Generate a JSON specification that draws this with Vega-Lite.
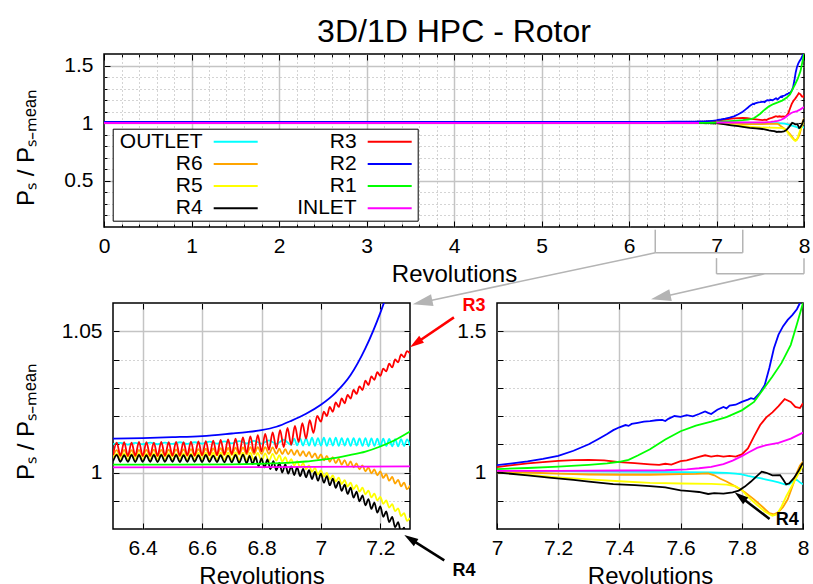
{
"$schema": "https://vega.github.io/schema/vega-lite/v6.json",
"padding": {"left": 13, "top": 14, "right": 5, "bottom": 5},
"background": "white",
"config": {
  "view": {"stroke": "black", "strokeWidth": 1.5},
  "font": "Liberation Sans",
  "axis": {"domain": false, "minExtent": 0, "tickColor": "black", "tickWidth": 1, "labelFont": "Liberation Sans", "labelFontSize": 21, "labelColor": "black", "titleFont": "Liberation Sans", "titleFontSize": 24, "titleFontWeight": "normal", "titleColor": "black", "labelFlush": false, "labelOverlap": false, "labelBound": false}
},
"datasets": {
"A": [
{"s":"OUTLET","x":0,"y":1.0102},{"s":"OUTLET","x":6.3,"y":1.0100},{"s":"OUTLET","x":6.325,"y":1.0105},{"s":"OUTLET","x":6.35,"y":1.0099},{"s":"OUTLET","x":6.375,"y":1.0105},{"s":"OUTLET","x":6.4,"y":1.0100},{"s":"OUTLET","x":6.425,"y":1.0106},{"s":"OUTLET","x":6.45,"y":1.0100},{"s":"OUTLET","x":6.475,"y":1.0106},{"s":"OUTLET","x":6.5,"y":1.0101},{"s":"OUTLET","x":6.525,"y":1.0107},{"s":"OUTLET","x":6.55,"y":1.0101},{"s":"OUTLET","x":6.575,"y":1.0107},{"s":"OUTLET","x":6.6,"y":1.0102},{"s":"OUTLET","x":6.625,"y":1.0109},{"s":"OUTLET","x":6.65,"y":1.0102},{"s":"OUTLET","x":6.675,"y":1.0110},{"s":"OUTLET","x":6.7,"y":1.0103},{"s":"OUTLET","x":6.725,"y":1.0111},{"s":"OUTLET","x":6.75,"y":1.0103},{"s":"OUTLET","x":6.775,"y":1.0112},{"s":"OUTLET","x":6.8,"y":1.0102},{"s":"OUTLET","x":6.825,"y":1.0114},{"s":"OUTLET","x":6.85,"y":1.0101},{"s":"OUTLET","x":6.875,"y":1.0116},{"s":"OUTLET","x":6.9,"y":1.0098},{"s":"OUTLET","x":6.91,"y":1.0120},{"s":"OUTLET","x":6.92,"y":1.0096},{"s":"OUTLET","x":6.93,"y":1.0121},{"s":"OUTLET","x":6.94,"y":1.0095},{"s":"OUTLET","x":6.95,"y":1.0122},{"s":"OUTLET","x":6.96,"y":1.0095},{"s":"OUTLET","x":6.97,"y":1.0123},{"s":"OUTLET","x":6.98,"y":1.0094},{"s":"OUTLET","x":6.99,"y":1.0122},{"s":"OUTLET","x":7.0,"y":1.0095},{"s":"OUTLET","x":7.01,"y":1.0123},{"s":"OUTLET","x":7.02,"y":1.0094},{"s":"OUTLET","x":7.03,"y":1.0122},{"s":"OUTLET","x":7.04,"y":1.0095},{"s":"OUTLET","x":7.05,"y":1.0123},{"s":"OUTLET","x":7.06,"y":1.0094},{"s":"OUTLET","x":7.07,"y":1.0122},{"s":"OUTLET","x":7.08,"y":1.0095},{"s":"OUTLET","x":7.09,"y":1.0121},{"s":"OUTLET","x":7.1,"y":1.0094},{"s":"OUTLET","x":7.11,"y":1.0122},{"s":"OUTLET","x":7.12,"y":1.0095},{"s":"OUTLET","x":7.13,"y":1.0121},{"s":"OUTLET","x":7.14,"y":1.0094},{"s":"OUTLET","x":7.15,"y":1.0122},{"s":"OUTLET","x":7.16,"y":1.0093},{"s":"OUTLET","x":7.17,"y":1.0121},{"s":"OUTLET","x":7.18,"y":1.0094},{"s":"OUTLET","x":7.19,"y":1.0120},{"s":"OUTLET","x":7.2,"y":1.0093},{"s":"OUTLET","x":7.21,"y":1.0120},{"s":"OUTLET","x":7.22,"y":1.0094},{"s":"OUTLET","x":7.23,"y":1.0119},{"s":"OUTLET","x":7.24,"y":1.0093},{"s":"OUTLET","x":7.25,"y":1.0118},{"s":"OUTLET","x":7.26,"y":1.0093},{"s":"OUTLET","x":7.27,"y":1.0118},{"s":"OUTLET","x":7.28,"y":1.0094},{"s":"OUTLET","x":7.29,"y":1.0117},{"s":"OUTLET","x":7.3,"y":1.0095},
{"s":"R6","x":0,"y":1.0068},{"s":"R6","x":6.3,"y":1.0057},{"s":"R6","x":6.3125,"y":1.0079},{"s":"R6","x":6.325,"y":1.0056},{"s":"R6","x":6.3375,"y":1.0080},{"s":"R6","x":6.35,"y":1.0057},{"s":"R6","x":6.3625,"y":1.0079},{"s":"R6","x":6.375,"y":1.0056},{"s":"R6","x":6.3875,"y":1.0080},{"s":"R6","x":6.4,"y":1.0057},{"s":"R6","x":6.4125,"y":1.0080},{"s":"R6","x":6.425,"y":1.0057},{"s":"R6","x":6.4375,"y":1.0081},{"s":"R6","x":6.45,"y":1.0057},{"s":"R6","x":6.4625,"y":1.0080},{"s":"R6","x":6.475,"y":1.0058},{"s":"R6","x":6.4875,"y":1.0081},{"s":"R6","x":6.5,"y":1.0058},{"s":"R6","x":6.5125,"y":1.0082},{"s":"R6","x":6.525,"y":1.0058},{"s":"R6","x":6.5375,"y":1.0082},{"s":"R6","x":6.55,"y":1.0059},{"s":"R6","x":6.5625,"y":1.0083},{"s":"R6","x":6.575,"y":1.0059},{"s":"R6","x":6.5875,"y":1.0083},{"s":"R6","x":6.6,"y":1.0060},{"s":"R6","x":6.6125,"y":1.0084},{"s":"R6","x":6.625,"y":1.0060},{"s":"R6","x":6.6375,"y":1.0085},{"s":"R6","x":6.65,"y":1.0061},{"s":"R6","x":6.6625,"y":1.0086},{"s":"R6","x":6.675,"y":1.0062},{"s":"R6","x":6.6875,"y":1.0087},{"s":"R6","x":6.7,"y":1.0062},{"s":"R6","x":6.7125,"y":1.0088},{"s":"R6","x":6.725,"y":1.0063},{"s":"R6","x":6.7375,"y":1.0089},{"s":"R6","x":6.75,"y":1.0064},{"s":"R6","x":6.7625,"y":1.0090},{"s":"R6","x":6.775,"y":1.0065},{"s":"R6","x":6.7875,"y":1.0090},{"s":"R6","x":6.8,"y":1.0066},{"s":"R6","x":6.8125,"y":1.0090},{"s":"R6","x":6.825,"y":1.0066},{"s":"R6","x":6.8375,"y":1.0089},{"s":"R6","x":6.85,"y":1.0066},{"s":"R6","x":6.86,"y":1.0084},{"s":"R6","x":6.87,"y":1.0065},{"s":"R6","x":6.88,"y":1.0083},{"s":"R6","x":6.89,"y":1.0064},{"s":"R6","x":6.9,"y":1.0081},{"s":"R6","x":6.91,"y":1.0062},{"s":"R6","x":6.92,"y":1.0079},{"s":"R6","x":6.93,"y":1.0059},{"s":"R6","x":6.94,"y":1.0076},{"s":"R6","x":6.95,"y":1.0057},{"s":"R6","x":6.96,"y":1.0073},{"s":"R6","x":6.97,"y":1.0053},{"s":"R6","x":6.98,"y":1.0068},{"s":"R6","x":6.99,"y":1.0048},{"s":"R6","x":7.0,"y":1.0064},{"s":"R6","x":7.01,"y":1.0043},{"s":"R6","x":7.02,"y":1.0059},{"s":"R6","x":7.03,"y":1.0038},{"s":"R6","x":7.04,"y":1.0054},{"s":"R6","x":7.05,"y":1.0033},{"s":"R6","x":7.06,"y":1.0049},{"s":"R6","x":7.07,"y":1.0028},{"s":"R6","x":7.08,"y":1.0044},{"s":"R6","x":7.09,"y":1.0023},{"s":"R6","x":7.1,"y":1.0039},{"s":"R6","x":7.11,"y":1.0018},{"s":"R6","x":7.12,"y":1.0032},{"s":"R6","x":7.13,"y":1.0011},{"s":"R6","x":7.14,"y":1.0025},{"s":"R6","x":7.15,"y":1.0004},{"s":"R6","x":7.16,"y":1.0018},{"s":"R6","x":7.17,"y":0.9997},{"s":"R6","x":7.18,"y":1.0011},{"s":"R6","x":7.19,"y":0.9990},{"s":"R6","x":7.2,"y":1.0004},{"s":"R6","x":7.21,"y":0.9981},{"s":"R6","x":7.22,"y":0.9994},{"s":"R6","x":7.23,"y":0.9971},{"s":"R6","x":7.24,"y":0.9984},{"s":"R6","x":7.25,"y":0.9961},{"s":"R6","x":7.26,"y":0.9974},{"s":"R6","x":7.27,"y":0.9951},{"s":"R6","x":7.28,"y":0.9964},{"s":"R6","x":7.29,"y":0.9941},{"s":"R6","x":7.3,"y":0.9954},
{"s":"R5","x":0,"y":1.0056},{"s":"R5","x":6.3,"y":1.0046},{"s":"R5","x":6.3125,"y":1.0067},{"s":"R5","x":6.325,"y":1.0045},{"s":"R5","x":6.3375,"y":1.0068},{"s":"R5","x":6.35,"y":1.0045},{"s":"R5","x":6.3625,"y":1.0067},{"s":"R5","x":6.375,"y":1.0046},{"s":"R5","x":6.3875,"y":1.0068},{"s":"R5","x":6.4,"y":1.0045},{"s":"R5","x":6.4125,"y":1.0067},{"s":"R5","x":6.425,"y":1.0045},{"s":"R5","x":6.4375,"y":1.0068},{"s":"R5","x":6.45,"y":1.0046},{"s":"R5","x":6.4625,"y":1.0067},{"s":"R5","x":6.475,"y":1.0045},{"s":"R5","x":6.4875,"y":1.0068},{"s":"R5","x":6.5,"y":1.0045},{"s":"R5","x":6.5125,"y":1.0067},{"s":"R5","x":6.525,"y":1.0046},{"s":"R5","x":6.5375,"y":1.0068},{"s":"R5","x":6.55,"y":1.0045},{"s":"R5","x":6.5625,"y":1.0068},{"s":"R5","x":6.575,"y":1.0045},{"s":"R5","x":6.5875,"y":1.0069},{"s":"R5","x":6.6,"y":1.0045},{"s":"R5","x":6.6125,"y":1.0069},{"s":"R5","x":6.625,"y":1.0045},{"s":"R5","x":6.6375,"y":1.0070},{"s":"R5","x":6.65,"y":1.0045},{"s":"R5","x":6.6625,"y":1.0070},{"s":"R5","x":6.675,"y":1.0044},{"s":"R5","x":6.6875,"y":1.0070},{"s":"R5","x":6.7,"y":1.0044},{"s":"R5","x":6.7125,"y":1.0071},{"s":"R5","x":6.725,"y":1.0043},{"s":"R5","x":6.7375,"y":1.0070},{"s":"R5","x":6.75,"y":1.0043},{"s":"R5","x":6.7625,"y":1.0070},{"s":"R5","x":6.775,"y":1.0042},{"s":"R5","x":6.7875,"y":1.0069},{"s":"R5","x":6.8,"y":1.0041},{"s":"R5","x":6.8125,"y":1.0068},{"s":"R5","x":6.825,"y":1.0040},{"s":"R5","x":6.8375,"y":1.0066},{"s":"R5","x":6.85,"y":1.0042},{"s":"R5","x":6.86,"y":1.0061},{"s":"R5","x":6.87,"y":1.0039},{"s":"R5","x":6.88,"y":1.0054},{"s":"R5","x":6.89,"y":1.0032},{"s":"R5","x":6.9,"y":1.0047},{"s":"R5","x":6.91,"y":1.0025},{"s":"R5","x":6.92,"y":1.0040},{"s":"R5","x":6.93,"y":1.0018},{"s":"R5","x":6.94,"y":1.0033},{"s":"R5","x":6.95,"y":1.0011},{"s":"R5","x":6.96,"y":1.0025},{"s":"R5","x":6.97,"y":1.0002},{"s":"R5","x":6.98,"y":1.0016},{"s":"R5","x":6.99,"y":0.9993},{"s":"R5","x":7.0,"y":1.0007},{"s":"R5","x":7.01,"y":0.9985},{"s":"R5","x":7.02,"y":0.9999},{"s":"R5","x":7.03,"y":0.9976},{"s":"R5","x":7.04,"y":0.9990},{"s":"R5","x":7.05,"y":0.9968},{"s":"R5","x":7.06,"y":0.9982},{"s":"R5","x":7.07,"y":0.9959},{"s":"R5","x":7.08,"y":0.9973},{"s":"R5","x":7.09,"y":0.9950},{"s":"R5","x":7.1,"y":0.9964},{"s":"R5","x":7.11,"y":0.9941},{"s":"R5","x":7.12,"y":0.9955},{"s":"R5","x":7.13,"y":0.9932},{"s":"R5","x":7.14,"y":0.9946},{"s":"R5","x":7.15,"y":0.9923},{"s":"R5","x":7.16,"y":0.9936},{"s":"R5","x":7.17,"y":0.9912},{"s":"R5","x":7.18,"y":0.9925},{"s":"R5","x":7.19,"y":0.9901},{"s":"R5","x":7.2,"y":0.9914},{"s":"R5","x":7.21,"y":0.9889},{"s":"R5","x":7.22,"y":0.9901},{"s":"R5","x":7.23,"y":0.9876},{"s":"R5","x":7.24,"y":0.9888},{"s":"R5","x":7.25,"y":0.9863},{"s":"R5","x":7.26,"y":0.9873},{"s":"R5","x":7.27,"y":0.9846},{"s":"R5","x":7.28,"y":0.9856},{"s":"R5","x":7.29,"y":0.9829},{"s":"R5","x":7.3,"y":0.9839},
{"s":"R4","x":0,"y":1.0050},{"s":"R4","x":6.3,"y":1.0040},{"s":"R4","x":6.3125,"y":1.0062},{"s":"R4","x":6.325,"y":1.0038},{"s":"R4","x":6.3375,"y":1.0061},{"s":"R4","x":6.35,"y":1.0038},{"s":"R4","x":6.3625,"y":1.0062},{"s":"R4","x":6.375,"y":1.0037},{"s":"R4","x":6.3875,"y":1.0062},{"s":"R4","x":6.4,"y":1.0038},{"s":"R4","x":6.4125,"y":1.0061},{"s":"R4","x":6.425,"y":1.0038},{"s":"R4","x":6.4375,"y":1.0062},{"s":"R4","x":6.45,"y":1.0037},{"s":"R4","x":6.4625,"y":1.0062},{"s":"R4","x":6.475,"y":1.0038},{"s":"R4","x":6.4875,"y":1.0061},{"s":"R4","x":6.5,"y":1.0038},{"s":"R4","x":6.5125,"y":1.0062},{"s":"R4","x":6.525,"y":1.0037},{"s":"R4","x":6.5375,"y":1.0061},{"s":"R4","x":6.55,"y":1.0038},{"s":"R4","x":6.5625,"y":1.0062},{"s":"R4","x":6.575,"y":1.0038},{"s":"R4","x":6.5875,"y":1.0061},{"s":"R4","x":6.6,"y":1.0037},{"s":"R4","x":6.6125,"y":1.0062},{"s":"R4","x":6.625,"y":1.0038},{"s":"R4","x":6.6375,"y":1.0060},{"s":"R4","x":6.65,"y":1.0037},{"s":"R4","x":6.6625,"y":1.0061},{"s":"R4","x":6.675,"y":1.0036},{"s":"R4","x":6.6875,"y":1.0060},{"s":"R4","x":6.7,"y":1.0036},{"s":"R4","x":6.7125,"y":1.0062},{"s":"R4","x":6.725,"y":1.0034},{"s":"R4","x":6.7375,"y":1.0063},{"s":"R4","x":6.75,"y":1.0033},{"s":"R4","x":6.76,"y":1.0059},{"s":"R4","x":6.77,"y":1.0030},{"s":"R4","x":6.78,"y":1.0055},{"s":"R4","x":6.79,"y":1.0022},{"s":"R4","x":6.8,"y":1.0050},{"s":"R4","x":6.81,"y":1.0018},{"s":"R4","x":6.82,"y":1.0046},{"s":"R4","x":6.83,"y":1.0012},{"s":"R4","x":6.84,"y":1.0040},{"s":"R4","x":6.85,"y":1.0008},{"s":"R4","x":6.86,"y":1.0034},{"s":"R4","x":6.87,"y":1.0000},{"s":"R4","x":6.88,"y":1.0029},{"s":"R4","x":6.89,"y":0.9996},{"s":"R4","x":6.9,"y":1.0022},{"s":"R4","x":6.91,"y":0.9991},{"s":"R4","x":6.92,"y":1.0018},{"s":"R4","x":6.93,"y":0.9987},{"s":"R4","x":6.94,"y":1.0013},{"s":"R4","x":6.95,"y":0.9983},{"s":"R4","x":6.96,"y":1.0008},{"s":"R4","x":6.97,"y":0.9977},{"s":"R4","x":6.98,"y":1.0002},{"s":"R4","x":6.99,"y":0.9971},{"s":"R4","x":7.0,"y":0.9996},{"s":"R4","x":7.01,"y":0.9964},{"s":"R4","x":7.02,"y":0.9987},{"s":"R4","x":7.03,"y":0.9955},{"s":"R4","x":7.04,"y":0.9978},{"s":"R4","x":7.05,"y":0.9946},{"s":"R4","x":7.06,"y":0.9968},{"s":"R4","x":7.07,"y":0.9935},{"s":"R4","x":7.08,"y":0.9957},{"s":"R4","x":7.09,"y":0.9924},{"s":"R4","x":7.1,"y":0.9946},{"s":"R4","x":7.11,"y":0.9911},{"s":"R4","x":7.12,"y":0.9932},{"s":"R4","x":7.13,"y":0.9898},{"s":"R4","x":7.14,"y":0.9919},{"s":"R4","x":7.15,"y":0.9884},{"s":"R4","x":7.16,"y":0.9906},{"s":"R4","x":7.17,"y":0.9871},{"s":"R4","x":7.18,"y":0.9893},{"s":"R4","x":7.19,"y":0.9858},{"s":"R4","x":7.2,"y":0.9880},{"s":"R4","x":7.21,"y":0.9843},{"s":"R4","x":7.22,"y":0.9862},{"s":"R4","x":7.23,"y":0.9824},{"s":"R4","x":7.24,"y":0.9843},{"s":"R4","x":7.25,"y":0.9806},{"s":"R4","x":7.26,"y":0.9824},{"s":"R4","x":7.27,"y":0.9787},{"s":"R4","x":7.28,"y":0.9805},{"s":"R4","x":7.29,"y":0.9768},{"s":"R4","x":7.3,"y":0.9786},
{"s":"R3","x":0,"y":1.0083},{"s":"R3","x":6.3,"y":1.0062},{"s":"R3","x":6.3125,"y":1.0106},{"s":"R3","x":6.325,"y":1.0060},{"s":"R3","x":6.3375,"y":1.0107},{"s":"R3","x":6.35,"y":1.0059},{"s":"R3","x":6.3625,"y":1.0106},{"s":"R3","x":6.375,"y":1.0060},{"s":"R3","x":6.3875,"y":1.0108},{"s":"R3","x":6.4,"y":1.0059},{"s":"R3","x":6.4125,"y":1.0107},{"s":"R3","x":6.425,"y":1.0060},{"s":"R3","x":6.4375,"y":1.0106},{"s":"R3","x":6.45,"y":1.0059},{"s":"R3","x":6.4625,"y":1.0108},{"s":"R3","x":6.475,"y":1.0060},{"s":"R3","x":6.4875,"y":1.0107},{"s":"R3","x":6.5,"y":1.0060},{"s":"R3","x":6.5125,"y":1.0108},{"s":"R3","x":6.525,"y":1.0060},{"s":"R3","x":6.5375,"y":1.0107},{"s":"R3","x":6.55,"y":1.0061},{"s":"R3","x":6.5625,"y":1.0109},{"s":"R3","x":6.575,"y":1.0060},{"s":"R3","x":6.5875,"y":1.0110},{"s":"R3","x":6.6,"y":1.0061},{"s":"R3","x":6.6125,"y":1.0111},{"s":"R3","x":6.625,"y":1.0062},{"s":"R3","x":6.6375,"y":1.0113},{"s":"R3","x":6.65,"y":1.0062},{"s":"R3","x":6.6625,"y":1.0115},{"s":"R3","x":6.675,"y":1.0064},{"s":"R3","x":6.6875,"y":1.0117},{"s":"R3","x":6.7,"y":1.0065},{"s":"R3","x":6.7125,"y":1.0120},{"s":"R3","x":6.725,"y":1.0067},{"s":"R3","x":6.7375,"y":1.0124},{"s":"R3","x":6.75,"y":1.0069},{"s":"R3","x":6.7625,"y":1.0128},{"s":"R3","x":6.775,"y":1.0071},{"s":"R3","x":6.7875,"y":1.0132},{"s":"R3","x":6.8,"y":1.0075},{"s":"R3","x":6.8125,"y":1.0137},{"s":"R3","x":6.825,"y":1.0080},{"s":"R3","x":6.8375,"y":1.0142},{"s":"R3","x":6.85,"y":1.0085},{"s":"R3","x":6.8625,"y":1.0150},{"s":"R3","x":6.875,"y":1.0090},{"s":"R3","x":6.8875,"y":1.0158},{"s":"R3","x":6.9,"y":1.0098},{"s":"R3","x":6.9125,"y":1.0165},{"s":"R3","x":6.925,"y":1.0108},{"s":"R3","x":6.9375,"y":1.0175},{"s":"R3","x":6.95,"y":1.0120},{"s":"R3","x":6.9625,"y":1.0185},{"s":"R3","x":6.975,"y":1.0140},{"s":"R3","x":6.9875,"y":1.0200},{"s":"R3","x":7.0,"y":1.0180},{"s":"R3","x":7.01,"y":1.0215},{"s":"R3","x":7.02,"y":1.0200},{"s":"R3","x":7.03,"y":1.0232},{"s":"R3","x":7.04,"y":1.0215},{"s":"R3","x":7.05,"y":1.0248},{"s":"R3","x":7.06,"y":1.0232},{"s":"R3","x":7.07,"y":1.0262},{"s":"R3","x":7.08,"y":1.0245},{"s":"R3","x":7.09,"y":1.0275},{"s":"R3","x":7.1,"y":1.0262},{"s":"R3","x":7.11,"y":1.0292},{"s":"R3","x":7.12,"y":1.0278},{"s":"R3","x":7.13,"y":1.0305},{"s":"R3","x":7.14,"y":1.0292},{"s":"R3","x":7.15,"y":1.0325},{"s":"R3","x":7.16,"y":1.0310},{"s":"R3","x":7.17,"y":1.0340},{"s":"R3","x":7.18,"y":1.0328},{"s":"R3","x":7.19,"y":1.0355},{"s":"R3","x":7.2,"y":1.0342},{"s":"R3","x":7.21,"y":1.0368},{"s":"R3","x":7.22,"y":1.0358},{"s":"R3","x":7.23,"y":1.0385},{"s":"R3","x":7.24,"y":1.0372},{"s":"R3","x":7.25,"y":1.0400},{"s":"R3","x":7.26,"y":1.0390},{"s":"R3","x":7.27,"y":1.0418},{"s":"R3","x":7.28,"y":1.0408},{"s":"R3","x":7.29,"y":1.0430},{"s":"R3","x":7.3,"y":1.0422},
{"s":"R2","x":0,"y":1.0120},{"s":"R2","x":6.3,"y":1.0120},{"s":"R2","x":6.4,"y":1.0122},{"s":"R2","x":6.5,"y":1.0125},{"s":"R2","x":6.6,"y":1.0129},{"s":"R2","x":6.7,"y":1.0138},{"s":"R2","x":6.75,"y":1.0143},{"s":"R2","x":6.8,"y":1.0150},{"s":"R2","x":6.85,"y":1.0162},{"s":"R2","x":6.9,"y":1.0183},{"s":"R2","x":6.95,"y":1.0208},{"s":"R2","x":7.0,"y":1.0240},{"s":"R2","x":7.05,"y":1.0283},{"s":"R2","x":7.1,"y":1.0345},{"s":"R2","x":7.15,"y":1.0440},{"s":"R2","x":7.2,"y":1.0565},{"s":"R2","x":7.25,"y":1.0720},{"s":"R2","x":7.3,"y":1.0900},
{"s":"R1","x":0,"y":1.0028},{"s":"R1","x":6.3,"y":1.0028},{"s":"R1","x":6.5,"y":1.0028},{"s":"R1","x":6.7,"y":1.0029},{"s":"R1","x":6.8,"y":1.0031},{"s":"R1","x":6.9,"y":1.0035},{"s":"R1","x":6.95,"y":1.0039},{"s":"R1","x":7.0,"y":1.0045},{"s":"R1","x":7.05,"y":1.0052},{"s":"R1","x":7.1,"y":1.0062},{"s":"R1","x":7.15,"y":1.0074},{"s":"R1","x":7.2,"y":1.0092},{"s":"R1","x":7.25,"y":1.0115},{"s":"R1","x":7.3,"y":1.0145},
{"s":"INLET","x":0,"y":1.0018},{"s":"INLET","x":6.3,"y":1.0018},{"s":"INLET","x":6.8,"y":1.0019},{"s":"INLET","x":7.3,"y":1.0022}
],
"B": [
{"s":"OUTLET","x":7.0,"y":1.006},{"s":"OUTLET","x":7.1,"y":1.005},{"s":"OUTLET","x":7.2,"y":1.005},{"s":"OUTLET","x":7.3,"y":1.004},{"s":"OUTLET","x":7.4,"y":1.003},{"s":"OUTLET","x":7.5,"y":1.002},{"s":"OUTLET","x":7.6,"y":1.001},{"s":"OUTLET","x":7.7,"y":1.000},{"s":"OUTLET","x":7.75,"y":0.999},{"s":"OUTLET","x":7.78,"y":0.996},{"s":"OUTLET","x":7.8,"y":0.993},{"s":"OUTLET","x":7.82,"y":0.988},{"s":"OUTLET","x":7.84,"y":0.984},{"s":"OUTLET","x":7.86,"y":0.980},{"s":"OUTLET","x":7.88,"y":0.975},{"s":"OUTLET","x":7.9,"y":0.970},{"s":"OUTLET","x":7.92,"y":0.965},{"s":"OUTLET","x":7.94,"y":0.958},{"s":"OUTLET","x":7.955,"y":0.958},{"s":"OUTLET","x":7.97,"y":0.972},{"s":"OUTLET","x":7.98,"y":0.974},{"s":"OUTLET","x":7.99,"y":0.965},{"s":"OUTLET","x":8.0,"y":0.958},
{"s":"R6","x":7.0,"y":1.002},{"s":"R6","x":7.1,"y":1.000},{"s":"R6","x":7.2,"y":0.996},{"s":"R6","x":7.3,"y":0.993},{"s":"R6","x":7.4,"y":0.992},{"s":"R6","x":7.5,"y":0.992},{"s":"R6","x":7.6,"y":0.994},{"s":"R6","x":7.65,"y":0.995},{"s":"R6","x":7.69,"y":0.997},{"s":"R6","x":7.71,"y":0.990},{"s":"R6","x":7.73,"y":0.978},{"s":"R6","x":7.75,"y":0.968},{"s":"R6","x":7.78,"y":0.950},{"s":"R6","x":7.81,"y":0.930},{"s":"R6","x":7.84,"y":0.905},{"s":"R6","x":7.87,"y":0.876},{"s":"R6","x":7.89,"y":0.856},{"s":"R6","x":7.905,"y":0.852},{"s":"R6","x":7.92,"y":0.860},{"s":"R6","x":7.935,"y":0.878},{"s":"R6","x":7.95,"y":0.905},{"s":"R6","x":7.96,"y":0.935},{"s":"R6","x":7.97,"y":0.965},{"s":"R6","x":7.98,"y":1.000},{"s":"R6","x":7.99,"y":1.025},{"s":"R6","x":8.0,"y":1.038},
{"s":"R5","x":7.0,"y":1.000},{"s":"R5","x":7.1,"y":0.992},{"s":"R5","x":7.2,"y":0.983},{"s":"R5","x":7.3,"y":0.976},{"s":"R5","x":7.4,"y":0.969},{"s":"R5","x":7.5,"y":0.963},{"s":"R5","x":7.6,"y":0.961},{"s":"R5","x":7.7,"y":0.960},{"s":"R5","x":7.75,"y":0.957},{"s":"R5","x":7.78,"y":0.951},{"s":"R5","x":7.8,"y":0.938},{"s":"R5","x":7.82,"y":0.914},{"s":"R5","x":7.85,"y":0.885},{"s":"R5","x":7.875,"y":0.862},{"s":"R5","x":7.9,"y":0.847},{"s":"R5","x":7.915,"y":0.852},{"s":"R5","x":7.93,"y":0.880},{"s":"R5","x":7.945,"y":0.915},{"s":"R5","x":7.96,"y":0.945},{"s":"R5","x":7.975,"y":0.975},{"s":"R5","x":7.99,"y":1.005},{"s":"R5","x":8.0,"y":1.025},
{"s":"R4","x":7.0,"y":1.000},{"s":"R4","x":7.1,"y":0.990},{"s":"R4","x":7.17,"y":0.982},{"s":"R4","x":7.25,"y":0.974},{"s":"R4","x":7.3,"y":0.968},{"s":"R4","x":7.38,"y":0.959},{"s":"R4","x":7.45,"y":0.955},{"s":"R4","x":7.5,"y":0.952},{"s":"R4","x":7.55,"y":0.947},{"s":"R4","x":7.6,"y":0.937},{"s":"R4","x":7.63,"y":0.934},{"s":"R4","x":7.66,"y":0.931},{"s":"R4","x":7.69,"y":0.924},{"s":"R4","x":7.71,"y":0.927},{"s":"R4","x":7.74,"y":0.925},{"s":"R4","x":7.77,"y":0.930},{"s":"R4","x":7.79,"y":0.936},{"s":"R4","x":7.81,"y":0.950},{"s":"R4","x":7.83,"y":0.968},{"s":"R4","x":7.85,"y":0.988},{"s":"R4","x":7.865,"y":1.003},{"s":"R4","x":7.88,"y":0.999},{"s":"R4","x":7.9,"y":0.990},{"s":"R4","x":7.925,"y":0.991},{"s":"R4","x":7.935,"y":0.975},{"s":"R4","x":7.945,"y":0.958},{"s":"R4","x":7.955,"y":0.962},{"s":"R4","x":7.97,"y":0.980},{"s":"R4","x":7.985,"y":1.005},{"s":"R4","x":8.0,"y":1.035},
{"s":"R3","x":7.0,"y":1.019},{"s":"R3","x":7.05,"y":1.026},{"s":"R3","x":7.1,"y":1.032},{"s":"R3","x":7.15,"y":1.037},{"s":"R3","x":7.2,"y":1.041},{"s":"R3","x":7.25,"y":1.044},{"s":"R3","x":7.3,"y":1.045},{"s":"R3","x":7.35,"y":1.043},{"s":"R3","x":7.4,"y":1.037},{"s":"R3","x":7.45,"y":1.033},{"s":"R3","x":7.5,"y":1.029},{"s":"R3","x":7.53,"y":1.027},{"s":"R3","x":7.55,"y":1.031},{"s":"R3","x":7.57,"y":1.028},{"s":"R3","x":7.6,"y":1.040},{"s":"R3","x":7.62,"y":1.043},{"s":"R3","x":7.64,"y":1.049},{"s":"R3","x":7.66,"y":1.055},{"s":"R3","x":7.68,"y":1.061},{"s":"R3","x":7.7,"y":1.056},{"s":"R3","x":7.72,"y":1.060},{"s":"R3","x":7.74,"y":1.056},{"s":"R3","x":7.76,"y":1.059},{"s":"R3","x":7.78,"y":1.056},{"s":"R3","x":7.8,"y":1.064},{"s":"R3","x":7.82,"y":1.085},{"s":"R3","x":7.84,"y":1.128},{"s":"R3","x":7.86,"y":1.168},{"s":"R3","x":7.88,"y":1.195},{"s":"R3","x":7.9,"y":1.213},{"s":"R3","x":7.92,"y":1.235},{"s":"R3","x":7.94,"y":1.260},{"s":"R3","x":7.96,"y":1.250},{"s":"R3","x":7.975,"y":1.232},{"s":"R3","x":7.99,"y":1.228},{"s":"R3","x":8.0,"y":1.245},
{"s":"R2","x":7.0,"y":1.026},{"s":"R2","x":7.05,"y":1.032},{"s":"R2","x":7.1,"y":1.039},{"s":"R2","x":7.15,"y":1.048},{"s":"R2","x":7.2,"y":1.059},{"s":"R2","x":7.25,"y":1.077},{"s":"R2","x":7.3,"y":1.100},{"s":"R2","x":7.33,"y":1.118},{"s":"R2","x":7.36,"y":1.136},{"s":"R2","x":7.38,"y":1.150},{"s":"R2","x":7.4,"y":1.160},{"s":"R2","x":7.42,"y":1.168},{"s":"R2","x":7.43,"y":1.165},{"s":"R2","x":7.44,"y":1.172},{"s":"R2","x":7.46,"y":1.176},{"s":"R2","x":7.48,"y":1.180},{"s":"R2","x":7.5,"y":1.182},{"s":"R2","x":7.52,"y":1.185},{"s":"R2","x":7.54,"y":1.186},{"s":"R2","x":7.55,"y":1.182},{"s":"R2","x":7.56,"y":1.190},{"s":"R2","x":7.58,"y":1.200},{"s":"R2","x":7.6,"y":1.197},{"s":"R2","x":7.62,"y":1.203},{"s":"R2","x":7.64,"y":1.199},{"s":"R2","x":7.66,"y":1.207},{"s":"R2","x":7.68,"y":1.216},{"s":"R2","x":7.69,"y":1.211},{"s":"R2","x":7.7,"y":1.207},{"s":"R2","x":7.72,"y":1.222},{"s":"R2","x":7.74,"y":1.232},{"s":"R2","x":7.75,"y":1.227},{"s":"R2","x":7.76,"y":1.237},{"s":"R2","x":7.78,"y":1.240},{"s":"R2","x":7.8,"y":1.250},{"s":"R2","x":7.82,"y":1.258},{"s":"R2","x":7.83,"y":1.263},{"s":"R2","x":7.84,"y":1.260},{"s":"R2","x":7.86,"y":1.283},{"s":"R2","x":7.875,"y":1.310},{"s":"R2","x":7.89,"y":1.370},{"s":"R2","x":7.905,"y":1.440},{"s":"R2","x":7.92,"y":1.488},{"s":"R2","x":7.935,"y":1.518},{"s":"R2","x":7.95,"y":1.540},{"s":"R2","x":7.965,"y":1.557},{"s":"R2","x":7.98,"y":1.578},{"s":"R2","x":7.99,"y":1.600},{"s":"R2","x":8.0,"y":1.625},
{"s":"R1","x":7.0,"y":1.012},{"s":"R1","x":7.1,"y":1.016},{"s":"R1","x":7.2,"y":1.021},{"s":"R1","x":7.3,"y":1.027},{"s":"R1","x":7.36,"y":1.032},{"s":"R1","x":7.4,"y":1.038},{"s":"R1","x":7.43,"y":1.045},{"s":"R1","x":7.46,"y":1.060},{"s":"R1","x":7.5,"y":1.082},{"s":"R1","x":7.55,"y":1.117},{"s":"R1","x":7.6,"y":1.146},{"s":"R1","x":7.65,"y":1.166},{"s":"R1","x":7.7,"y":1.180},{"s":"R1","x":7.75,"y":1.196},{"s":"R1","x":7.8,"y":1.220},{"s":"R1","x":7.84,"y":1.250},{"s":"R1","x":7.87,"y":1.295},{"s":"R1","x":7.9,"y":1.340},{"s":"R1","x":7.93,"y":1.388},{"s":"R1","x":7.96,"y":1.452},{"s":"R1","x":7.98,"y":1.525},{"s":"R1","x":8.0,"y":1.600},
{"s":"INLET","x":7.0,"y":1.006},{"s":"INLET","x":7.2,"y":1.006},{"s":"INLET","x":7.4,"y":1.007},{"s":"INLET","x":7.55,"y":1.008},{"s":"INLET","x":7.62,"y":1.011},{"s":"INLET","x":7.66,"y":1.015},{"s":"INLET","x":7.7,"y":1.020},{"s":"INLET","x":7.74,"y":1.030},{"s":"INLET","x":7.77,"y":1.042},{"s":"INLET","x":7.8,"y":1.058},{"s":"INLET","x":7.82,"y":1.070},{"s":"INLET","x":7.85,"y":1.087},{"s":"INLET","x":7.88,"y":1.097},{"s":"INLET","x":7.92,"y":1.105},{"s":"INLET","x":7.96,"y":1.120},{"s":"INLET","x":8.0,"y":1.141}
]
},
"resolve": {"scale": {"color": "independent"}},
"bounds": "flush",
"spacing": 76,
"vconcat": [
{
  "width": 700, "height": 173,
  "title": {"text": "3D/1D HPC - Rotor", "font": "Liberation Sans", "fontSize": 32, "fontWeight": "normal", "color": "black", "anchor": "middle", "frame": "group", "offset": -20, "baseline": "alphabetic"},
  "layer": [
    {
      "data": {"name": "A"},
      "transform": [{"filter": "datum.x <= 7"}],
      "mark": {"type": "point", "opacity": 0},
      "encoding": {
        "x": {"field": "x", "type": "quantitative", "scale": {"domain": [0, 8], "nice": false, "zero": false},
          "axis": {"orient": "top", "values": [0,0.2,0.4,0.6,0.8,1,1.2,1.4,1.6,1.8,2,2.2,2.4,2.6,2.8,3,3.2,3.4,3.6,3.8,4,4.2,4.4,4.6,4.8,5,5.2,5.4,5.6,5.8,6,6.2,6.4,6.6,6.8,7,7.2,7.4,7.6,7.8,8], "grid": false, "labels": false, "title": null,
            "tickSize": {"condition": {"test": "datum.value % 1 == 0", "value": -6}, "value": -3}}},
        "y": {"field": "y", "type": "quantitative", "scale": {"domain": [0.1, 1.6], "nice": false, "zero": false},
          "axis": {"orient": "right", "values": [0.2,0.3,0.4,0.5,0.6,0.7,0.8,0.9,1,1.1,1.2,1.3,1.4,1.5], "grid": false, "labels": false, "title": null,
            "tickSize": {"condition": {"test": "datum.value == 0.5 || datum.value == 1 || datum.value == 1.5", "value": -6}, "value": -3}}}
      }
    },
    {
      "data": {"name": "A"},
      "transform": [{"filter": "datum.x <= 7"}],
      "mark": {"type": "line", "strokeWidth": 1.8, "clip": true},
      "encoding": {
        "x": {"field": "x", "type": "quantitative", "scale": {"domain": [0, 8], "nice": false, "zero": false},
          "axis": {"orient": "bottom", "values": [0,0.2,0.4,0.6,0.8,1,1.2,1.4,1.6,1.8,2,2.2,2.4,2.6,2.8,3,3.2,3.4,3.6,3.8,4,4.2,4.4,4.6,4.8,5,5.2,5.4,5.6,5.8,6,6.2,6.4,6.6,6.8,7,7.2,7.4,7.6,7.8,8], "grid": true,
            "gridColor": {"condition": {"test": "datum.value % 1 == 0", "value": "#c4c4c4"}, "value": "#a8a8a8"},
            "gridDash": {"condition": {"test": "datum.value % 1 == 0", "value": []}, "value": [1, 3]},
            "gridWidth": {"condition": {"test": "datum.value % 1 == 0", "value": 1.5}, "value": 1},
            "gridOpacity": {"condition": {"test": "datum.value <= 0 || datum.value >= 8", "value": 0}, "value": 1},
            "tickSize": {"condition": {"test": "datum.value % 1 == 0", "value": -6}, "value": -3},
            "labelExpr": "datum.value % 1 == 0 ? format(datum.value, '~g') : ''",
            "labelPadding": 14, "title": "Revolutions", "titleY": 54, "titleBaseline": "alphabetic"}},
        "y": {"field": "y", "type": "quantitative", "scale": {"domain": [0.1, 1.6], "nice": false, "zero": false},
          "axis": {"orient": "left", "values": [0.2,0.3,0.4,0.5,0.6,0.7,0.8,0.9,1,1.1,1.2,1.3,1.4,1.5], "grid": true,
            "gridColor": {"condition": {"test": "datum.value == 0.5 || datum.value == 1 || datum.value == 1.5", "value": "#c4c4c4"}, "value": "#a8a8a8"},
            "gridDash": {"condition": {"test": "datum.value == 0.5 || datum.value == 1 || datum.value == 1.5", "value": []}, "value": [1, 3]},
            "gridWidth": {"condition": {"test": "datum.value == 0.5 || datum.value == 1 || datum.value == 1.5", "value": 1.5}, "value": 1},
            "tickSize": {"condition": {"test": "datum.value == 0.5 || datum.value == 1 || datum.value == 1.5", "value": -6}, "value": -3},
            "labelExpr": "(datum.value == 0.5 || datum.value == 1 || datum.value == 1.5) ? format(datum.value, '~g') : ''",
            "labelPadding": 17, "title": "Pₛ / Pₛ₋ₘₑₐₙ", "titleX": -71, "titleY": 93, "titleBaseline": "alphabetic", "titleAngle": 270}},
        "color": {"field": "s", "type": "nominal",
          "scale": {"domain": ["OUTLET","R6","R5","R4","R3","R2","R1","INLET"], "range": ["#00ffff","#ffa500","#ffff00","#000000","#ff0000","#0000ff","#00ff00","#ff00ff"]},
          "legend": {"orient": "none", "legendX": 8.7, "legendY": 74.7, "columns": 2, "title": null, "symbolType": "M-2.2,0H2.2", "symbolSize": 400, "symbolStrokeWidth": 2, "symbolOffset": 110, "labelFont": "Liberation Sans", "labelFontSize": 21, "labelColor": "black", "labelAlign": "right", "labelOffset": -44, "columnPadding": 7, "rowPadding": 1.2, "padding": 2, "strokeColor": "black", "fillColor": "white", "labelLimit": 300}}
      }
    },
    {
      "data": {"name": "B"},
      "mark": {"type": "line", "strokeWidth": 1.8, "clip": true},
      "encoding": {
        "x": {"field": "x", "type": "quantitative", "scale": {"domain": [0, 8], "nice": false, "zero": false}, "axis": null},
        "y": {"field": "y", "type": "quantitative", "scale": {"domain": [0.1, 1.6], "nice": false, "zero": false}, "axis": null},
        "color": {"field": "s", "type": "nominal", "scale": {"domain": ["OUTLET","R6","R5","R4","R3","R2","R1","INLET"], "range": ["#00ffff","#ffa500","#ffff00","#000000","#ff0000","#0000ff","#00ff00","#ff00ff"]}}
      }
    },
    {
      "data": {"values": [
        {"x": 6.3, "y": 0.076, "x2": 6.3, "y2": -0.124},
        {"x": 6.3, "y": -0.124, "x2": 7.3, "y2": -0.124},
        {"x": 7.3, "y": -0.124, "x2": 7.3, "y2": 0.076},
        {"x": 7.0, "y": -0.170, "x2": 7.0, "y2": -0.306},
        {"x": 7.0, "y": -0.306, "x2": 8.0, "y2": -0.306},
        {"x": 8.0, "y": -0.306, "x2": 8.0, "y2": -0.170},
        {"x": 6.3, "y": -0.124, "x2": 3.64, "y2": -0.552},
        {"x": 7.546, "y": -0.306, "x2": 6.363, "y2": -0.509}
      ]},
      "mark": {"type": "rule", "color": "#b4b4b4", "strokeWidth": 1.5, "clip": false},
      "encoding": {
        "x": {"field": "x", "type": "quantitative", "scale": {"domain": [0, 8], "nice": false, "zero": false}, "axis": null},
        "y": {"field": "y", "type": "quantitative", "scale": {"domain": [0.1, 1.6], "nice": false, "zero": false}, "axis": null},
        "x2": {"field": "x2"},
        "y2": {"field": "y2"}
      }
    },
    {
      "data": {"values": [{"x": 3.64, "y": -0.552}, {"x": 6.363, "y": -0.509}]},
      "mark": {"type": "point", "shape": "M0,-1L0.6,1L-0.6,1Z", "filled": true, "color": "#b4b4b4", "opacity": 1, "size": 400, "angle": 258, "clip": false},
      "encoding": {
        "x": {"field": "x", "type": "quantitative", "scale": {"domain": [0, 8], "nice": false, "zero": false}, "axis": null},
        "y": {"field": "y", "type": "quantitative", "scale": {"domain": [0.1, 1.6], "nice": false, "zero": false}, "axis": null}
      }
    }
  ],
  "resolve": {"axis": {"x": "independent", "y": "independent"}}
},
{
  "bounds": "flush",
  "spacing": 8,
  "hconcat": [
    {"width": 1, "height": 226, "data": {"values": [{"v": 0}]}, "mark": {"type": "point", "opacity": 0}, "view": {"stroke": null}},
    {
      "bounds": "flush",
      "spacing": 87,
      "hconcat": [
        {
          "width": 297, "height": 226,
          "layer": [
            {
              "data": {"name": "A"},
              "transform": [{"filter": "datum.x >= 6.3"}],
              "mark": {"type": "point", "opacity": 0},
              "encoding": {
                "x": {"field": "x", "type": "quantitative", "scale": {"domain": [6.3, 7.3], "nice": false, "zero": false},
                  "axis": {"orient": "top", "values": [6.4,6.6,6.8,7,7.2], "grid": false, "labels": false, "title": null, "tickSize": -6}},
                "y": {"field": "y", "type": "quantitative", "scale": {"domain": [0.98, 1.06], "nice": false, "zero": false},
                  "axis": {"orient": "right", "values": [0.99,1,1.01,1.02,1.03,1.04,1.05], "grid": false, "labels": false, "title": null, "tickSize": -6}}
              }
            },
            {
              "data": {"name": "A"},
              "transform": [{"filter": "datum.x >= 6.3"}],
              "mark": {"type": "line", "strokeWidth": 1.8, "clip": true, "interpolate": "monotone"},
              "encoding": {
                "x": {"field": "x", "type": "quantitative", "scale": {"domain": [6.3, 7.3], "nice": false, "zero": false},
                  "axis": {"orient": "bottom", "values": [6.4,6.6,6.8,7,7.2], "grid": true, "gridColor": "#c4c4c4", "gridWidth": 1.5, "tickSize": -6,
                    "labelExpr": "format(datum.value, '~g')", "labelPadding": 14, "title": "Revolutions", "titleY": 54, "titleBaseline": "alphabetic"}},
                "y": {"field": "y", "type": "quantitative", "scale": {"domain": [0.98, 1.06], "nice": false, "zero": false},
                  "axis": {"orient": "left", "values": [0.99,1,1.01,1.02,1.03,1.04,1.05], "grid": true,
                    "gridColor": {"condition": {"test": "datum.value == 1 || datum.value == 1.05", "value": "#c4c4c4"}, "value": "#a8a8a8"},
                    "gridDash": {"condition": {"test": "datum.value == 1 || datum.value == 1.05", "value": []}, "value": [1, 3]},
                    "gridWidth": {"condition": {"test": "datum.value == 1 || datum.value == 1.05", "value": 1.5}, "value": 1},
                    "tickSize": -6,
                    "labelExpr": "(datum.value == 1 || datum.value == 1.05) ? format(datum.value, '~g') : ''",
                    "labelPadding": 17, "title": "Pₛ / Pₛ₋ₘₑₐₙ", "titleX": -80, "titleY": 118, "titleBaseline": "alphabetic", "titleAngle": 270}},
                "color": {"field": "s", "type": "nominal", "legend": null,
                  "scale": {"domain": ["OUTLET","R6","R5","R4","R3","R2","R1","INLET"], "range": ["#00ffff","#ffa500","#ffff00","#000000","#ff0000","#0000ff","#00ff00","#ff00ff"]}}
              }
            },
            {
              "data": {"values": [
                {"s": "R3", "x": 7.448, "y": 1.0549, "x2": 7.3195, "y2": 1.04574},
                {"s": "R4", "x": 7.4155, "y": 0.9689, "x2": 7.3007, "y2": 0.97651}
              ]},
              "mark": {"type": "rule", "strokeWidth": 2.5, "clip": false},
              "encoding": {
                "x": {"field": "x", "type": "quantitative", "scale": {"domain": [6.3, 7.3], "nice": false, "zero": false}, "axis": null},
                "y": {"field": "y", "type": "quantitative", "scale": {"domain": [0.98, 1.06], "nice": false, "zero": false}, "axis": null},
                "x2": {"field": "x2"},
                "y2": {"field": "y2"},
                "color": {"field": "s", "type": "nominal", "legend": null, "scale": {"domain": ["OUTLET","R6","R5","R4","R3","R2","R1","INLET"], "range": ["#00ffff","#ffa500","#ffff00","#000000","#ff0000","#0000ff","#00ff00","#ff00ff"]}}
              }
            },
            {
              "data": {"values": [{"s": "R3", "x": 7.3195, "y": 1.04574}]},
              "mark": {"type": "point", "shape": "M0,-1L0.6,1L-0.6,1Z", "filled": true, "opacity": 1, "size": 196, "angle": 235.7, "clip": false},
              "encoding": {
                "x": {"field": "x", "type": "quantitative", "scale": {"domain": [6.3, 7.3], "nice": false, "zero": false}, "axis": null},
                "y": {"field": "y", "type": "quantitative", "scale": {"domain": [0.98, 1.06], "nice": false, "zero": false}, "axis": null},
                "color": {"field": "s", "type": "nominal", "legend": null, "scale": {"domain": ["OUTLET","R6","R5","R4","R3","R2","R1","INLET"], "range": ["#00ffff","#ffa500","#ffff00","#000000","#ff0000","#0000ff","#00ff00","#ff00ff"]}}
              }
            },
            {
              "data": {"values": [{"s": "R4", "x": 7.3007, "y": 0.97651}]},
              "mark": {"type": "point", "shape": "M0,-1L0.6,1L-0.6,1Z", "filled": true, "opacity": 1, "size": 196, "angle": 302.3, "clip": false},
              "encoding": {
                "x": {"field": "x", "type": "quantitative", "scale": {"domain": [6.3, 7.3], "nice": false, "zero": false}, "axis": null},
                "y": {"field": "y", "type": "quantitative", "scale": {"domain": [0.98, 1.06], "nice": false, "zero": false}, "axis": null},
                "color": {"field": "s", "type": "nominal", "legend": null, "scale": {"domain": ["OUTLET","R6","R5","R4","R3","R2","R1","INLET"], "range": ["#00ffff","#ffa500","#ffff00","#000000","#ff0000","#0000ff","#00ff00","#ff00ff"]}}
              }
            },
            {
              "data": {"values": [{"s": "R3", "x": 7.5155, "y": 1.0589}, {"s": "R4", "x": 7.4818, "y": 0.9651}]},
              "mark": {"type": "text", "font": "Liberation Sans", "fontSize": 18, "fontWeight": "bold", "align": "center", "baseline": "middle", "clip": false},
              "encoding": {
                "x": {"field": "x", "type": "quantitative", "scale": {"domain": [6.3, 7.3], "nice": false, "zero": false}, "axis": null},
                "y": {"field": "y", "type": "quantitative", "scale": {"domain": [0.98, 1.06], "nice": false, "zero": false}, "axis": null},
                "text": {"field": "s"},
                "color": {"field": "s", "type": "nominal", "legend": null, "scale": {"domain": ["OUTLET","R6","R5","R4","R3","R2","R1","INLET"], "range": ["#00ffff","#ffa500","#ffff00","#000000","#ff0000","#0000ff","#00ff00","#ff00ff"]}}
              }
            }
          ],
          "resolve": {"axis": {"x": "independent", "y": "independent"}}
        },
        {
          "width": 306, "height": 226,
          "layer": [
            {
              "data": {"name": "B"},
              "mark": {"type": "point", "opacity": 0},
              "encoding": {
                "x": {"field": "x", "type": "quantitative", "scale": {"domain": [7, 8], "nice": false, "zero": false},
                  "axis": {"orient": "top", "values": [7.2,7.4,7.6,7.8], "grid": false, "labels": false, "title": null, "tickSize": -6}},
                "y": {"field": "y", "type": "quantitative", "scale": {"domain": [0.8, 1.6], "nice": false, "zero": false},
                  "axis": {"orient": "right", "values": [0.9,1,1.1,1.2,1.3,1.4,1.5], "grid": false, "labels": false, "title": null, "tickSize": -6}}
              }
            },
            {
              "data": {"name": "B"},
              "mark": {"type": "line", "strokeWidth": 1.8, "clip": true},
              "encoding": {
                "x": {"field": "x", "type": "quantitative", "scale": {"domain": [7, 8], "nice": false, "zero": false},
                  "axis": {"orient": "bottom", "values": [7,7.2,7.4,7.6,7.8,8], "grid": true, "gridColor": "#c4c4c4", "gridWidth": 1.5,
                    "gridOpacity": {"condition": {"test": "datum.value <= 7 || datum.value >= 8", "value": 0}, "value": 1},
                    "tickSize": -6, "labelExpr": "format(datum.value, '~g')", "labelPadding": 14, "title": "Revolutions", "titleY": 54, "titleBaseline": "alphabetic"}},
                "y": {"field": "y", "type": "quantitative", "scale": {"domain": [0.8, 1.6], "nice": false, "zero": false},
                  "axis": {"orient": "left", "values": [0.9,1,1.1,1.2,1.3,1.4,1.5], "grid": true,
                    "gridColor": {"condition": {"test": "datum.value == 1 || datum.value == 1.5", "value": "#c4c4c4"}, "value": "#a8a8a8"},
                    "gridDash": {"condition": {"test": "datum.value == 1 || datum.value == 1.5", "value": []}, "value": [1, 3]},
                    "gridWidth": {"condition": {"test": "datum.value == 1 || datum.value == 1.5", "value": 1.5}, "value": 1},
                    "tickSize": -6,
                    "labelExpr": "(datum.value == 1 || datum.value == 1.5) ? format(datum.value, '~g') : ''",
                    "labelPadding": 17, "title": null}},
                "color": {"field": "s", "type": "nominal", "legend": null,
                  "scale": {"domain": ["OUTLET","R6","R5","R4","R3","R2","R1","INLET"], "range": ["#00ffff","#ffa500","#ffff00","#000000","#ff0000","#0000ff","#00ff00","#ff00ff"]}}
              }
            },
            {
              "data": {"values": [{"s": "R4", "x": 7.8908, "y": 0.8356, "x2": 7.7946, "y2": 0.9148}]},
              "mark": {"type": "rule", "strokeWidth": 2.5, "clip": false},
              "encoding": {
                "x": {"field": "x", "type": "quantitative", "scale": {"domain": [7, 8], "nice": false, "zero": false}, "axis": null},
                "y": {"field": "y", "type": "quantitative", "scale": {"domain": [0.8, 1.6], "nice": false, "zero": false}, "axis": null},
                "x2": {"field": "x2"},
                "y2": {"field": "y2"},
                "color": {"field": "s", "type": "nominal", "legend": null, "scale": {"domain": ["OUTLET","R6","R5","R4","R3","R2","R1","INLET"], "range": ["#00ffff","#ffa500","#ffff00","#000000","#ff0000","#0000ff","#00ff00","#ff00ff"]}}
              }
            },
            {
              "data": {"values": [{"s": "R4", "x": 7.7946, "y": 0.9148}]},
              "mark": {"type": "point", "shape": "M0,-1L0.6,1L-0.6,1Z", "filled": true, "opacity": 1, "size": 196, "angle": 307.4, "clip": false},
              "encoding": {
                "x": {"field": "x", "type": "quantitative", "scale": {"domain": [7, 8], "nice": false, "zero": false}, "axis": null},
                "y": {"field": "y", "type": "quantitative", "scale": {"domain": [0.8, 1.6], "nice": false, "zero": false}, "axis": null},
                "color": {"field": "s", "type": "nominal", "legend": null, "scale": {"domain": ["OUTLET","R6","R5","R4","R3","R2","R1","INLET"], "range": ["#00ffff","#ffa500","#ffff00","#000000","#ff0000","#0000ff","#00ff00","#ff00ff"]}}
              }
            },
            {
              "data": {"values": [{"s": "R4", "x": 7.9486, "y": 0.8327}]},
              "mark": {"type": "text", "font": "Liberation Sans", "fontSize": 18, "fontWeight": "bold", "align": "center", "baseline": "middle", "clip": false},
              "encoding": {
                "x": {"field": "x", "type": "quantitative", "scale": {"domain": [7, 8], "nice": false, "zero": false}, "axis": null},
                "y": {"field": "y", "type": "quantitative", "scale": {"domain": [0.8, 1.6], "nice": false, "zero": false}, "axis": null},
                "text": {"field": "s"},
                "color": {"field": "s", "type": "nominal", "legend": null, "scale": {"domain": ["OUTLET","R6","R5","R4","R3","R2","R1","INLET"], "range": ["#00ffff","#ffa500","#ffff00","#000000","#ff0000","#0000ff","#00ff00","#ff00ff"]}}
              }
            }
          ],
          "resolve": {"axis": {"x": "independent", "y": "independent"}}
        }
      ]
    }
  ]
}
]
}
